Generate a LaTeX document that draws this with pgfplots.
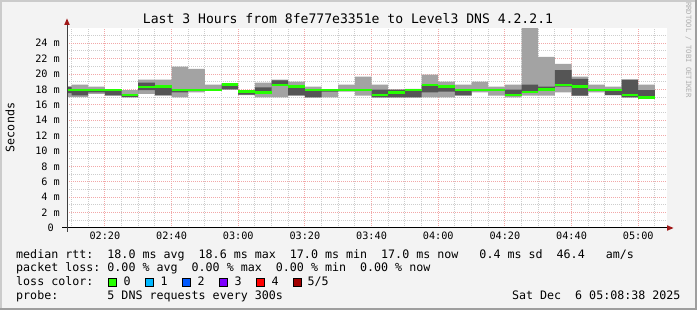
\documentclass[border=0pt]{standalone}
\usepackage{pgfplots}
\pgfplotsset{compat=1.18}
\usepgfplotslibrary{fillbetween}
\usepackage{pgfplotstable}
\usepackage{fontspec}
\setmainfont{DejaVu Sans Mono}
\setmonofont{DejaVu Sans Mono}
\definecolor{bgc}{HTML}{F3F3F3}
\definecolor{shadea}{HTML}{CBCBCB}
\definecolor{shadeb}{HTML}{9E9E9E}
\definecolor{mgrid}{HTML}{F2A8A8}
\definecolor{mingrid}{HTML}{CDCDCD}
\definecolor{lgray}{HTML}{A3A3A3}
\definecolor{dgray}{HTML}{555555}
\definecolor{med}{HTML}{26FF00}
\definecolor{arr}{HTML}{A01818}
\definecolor{lc1}{HTML}{00B8FF}
\definecolor{lc2}{HTML}{0059FF}
\definecolor{lc3}{HTML}{7E00FF}
\definecolor{lc4}{HTML}{FF0000}
\definecolor{lc5}{HTML}{A10000}
\definecolor{wm}{HTML}{AFAFAF}

\pgfplotstableread{
t   lo    qa    md    qb    hi
125 17.00 17.50 17.95 18.35 18.35
130 17.00 17.20 17.95 17.95 18.60
135 17.40 17.60 17.95 18.00 18.35
140 17.17 17.20 17.95 17.95 18.00
145 16.96 17.00 17.25 17.30 17.90
150 17.40 17.90 18.30 18.87 19.26
155 17.20 17.20 18.35 18.50 19.26
160 16.96 17.60 17.95 18.00 20.96
165 17.60 17.80 17.95 18.00 20.65
170 17.90 17.92 17.95 17.98 18.60
175 17.95 18.00 18.60 18.65 18.70
180 17.26 17.30 17.70 17.85 17.90
185 16.96 17.60 17.60 18.26 18.87
190 16.96 18.55 18.55 19.15 19.26
195 17.17 17.20 18.35 18.40 19.00
200 16.96 16.96 17.95 17.95 18.35
205 16.96 17.70 17.95 17.95 17.95
210 17.70 17.80 17.95 18.00 18.60
215 17.17 17.80 17.95 18.00 19.65
220 16.96 16.96 17.25 17.95 18.60
225 16.96 16.96 17.60 17.95 17.95
230 16.96 16.96 17.95 18.00 18.05
235 16.96 17.60 18.55 18.60 19.90
240 16.96 17.70 18.35 18.35 19.00
245 17.17 17.20 17.95 17.95 18.60
250 17.60 17.90 17.95 18.00 19.00
255 17.17 17.80 17.95 18.00 18.35
260 16.96 17.26 17.26 17.95 18.60
265 17.17 17.65 17.65 18.60 27.00
270 17.17 17.95 18.00 18.35 22.20
275 17.60 18.35 18.55 20.50 21.30
280 17.17 17.17 18.35 19.35 19.65
285 17.60 17.80 17.95 18.00 18.60
290 17.26 17.26 17.95 17.95 18.35
295 16.96 16.96 17.25 19.26 19.26
300 16.90 16.90 16.95 17.90 18.60
305 16.90 16.90 16.95 17.90 18.60
}\data

\newcommand\lf{\fontsize{11.66pt}{14pt}\selectfont}
\newcommand\af{\fontsize{10.2pt}{12pt}\selectfont}

\begin{document}
\begin{tikzpicture}[x=1pt,y=1pt]
\fill[bgc, even odd rule] (0,0) rectangle (697,310) (67,82) rectangle (667,282);
\fill[shadea] (0,0) rectangle (2,310);
\fill[shadea] (0,308) rectangle (697,310);
\fill[shadeb] (0,0) rectangle (697,2);
\fill[shadeb] (695,0) rectangle (697,310);
\begin{axis}[
  at={(67pt,82pt)}, anchor=south west,
  scale only axis, width=600pt, height=200pt,
  xmin=128.633, xmax=308.633, ymin=0, ymax=25.96,
  axis background/.style={fill=white},
  axis line style={draw=none},
  major tick length=0pt, minor tick length=0pt,
  xtick={140,160,...,300},
  xticklabels={02:20,02:40,03:00,03:20,03:40,04:00,04:20,04:40,05:00},
  minor xtick={130,135,145,150,155,165,170,175,185,190,195,205,210,215,225,230,235,245,250,255,265,270,275,285,290,295,305},
  ytick={0,2,...,24},
  yticklabels={0~~,2~m,4~m,6~m,8~m,10~m,12~m,14~m,16~m,18~m,20~m,22~m,24~m},
  minor ytick={1,3,...,25},
  grid=both,
  major grid style={mgrid, line width=0.8pt, dash pattern=on 1pt off 1pt},
  minor grid style={mingrid, line width=0.8pt, dash pattern=on 1pt off 1pt},
  tick label style={font=\af},
  /pgf/number format/assume math mode=true,
  yticklabel style={xshift=-3.6pt},
]
\addplot[name path=hi, const plot, draw=none, forget plot] table[x=t,y=hi]{\data};
\addplot[name path=lo, const plot, draw=none, forget plot] table[x=t,y=lo]{\data};
\addplot[lgray, draw=none] fill between[of=hi and lo];
\addplot[name path=qb, const plot, draw=none, forget plot] table[x=t,y=qb]{\data};
\addplot[name path=qa, const plot, draw=none, forget plot] table[x=t,y=qa]{\data};
\addplot[dgray, draw=none] fill between[of=qb and qa];
\addplot[jump mark left, med, line width=2.4pt] table[x=t,y=md]{\data};
\end{axis}
% axes
\draw[line width=1pt, black] (62,82) -- (668,82);
\fill[arr] (667,84.8) -- (673.5,82) -- (667,79.2) -- cycle;
\draw[line width=1pt, black!75] (67,78) -- (67,286);
\fill[arr] (64.2,285) -- (67,291.5) -- (69.8,285) -- cycle;
% title and labels
\node[anchor=base, font=\fontsize{13.1pt}{15pt}\selectfont] at (348,286) {Last 3 Hours from 8fe777e3351e to Level3 DNS 4.2.2.1};
\node[rotate=90, font=\lf] at (10,182.5) {Seconds};
\node[rotate=-90, font=\fontsize{7.2pt}{8pt}\selectfont, text=wm] at (688.5,260) {RRDTOOL / TOBI OETIKER};
% legend
\node[anchor=base west, inner sep=0pt, font=\lf] at (16,51.7) {median~rtt:~~18.0~ms~avg~~18.6~ms~max~~17.0~ms~min~~17.0~ms~now~~~0.4~ms~sd~~46.4~~~am/s};
\node[anchor=base west, inner sep=0pt, font=\lf] at (16,38.2) {packet~loss:~0.00~\%~avg~~0.00~\%~max~~0.00~\%~min~~0.00~\%~now};
\node[anchor=base west, inner sep=0pt, font=\lf] at (16,24.3) {loss~color:};
\node[anchor=base west, inner sep=0pt, font=\lf] at (16,10.7) {probe:~~~~~~~5~DNS~requests~every~300s};
\node[anchor=base east, inner sep=0pt, font=\lf] at (680.7,10.7) {Sat~Dec~~6~05:08:38~2025};
\foreach \c [count=\i from 0] in {med,lc1,lc2,lc3,lc4,lc5}{
  \filldraw[fill=\c, draw=black, line width=0.8pt] (108.8+37*\i,24) rectangle ++(7.6,7.6);
}
\foreach \t [count=\i from 0] in {0,1,2,3,4}{
  \node[anchor=base west, inner sep=0pt, font=\lf] at (123.3+37*\i,24.3) {\t};
}
\node[anchor=base west, inner sep=0pt, font=\lf] at (307.3,24.3) {5/5};
\pgfresetboundingbox
\path (0,0) rectangle (697,310);
\end{tikzpicture}
\end{document}
